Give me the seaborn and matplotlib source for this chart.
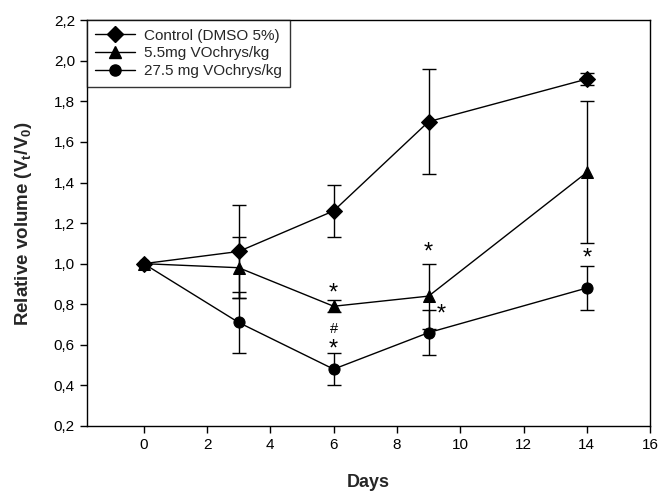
import pandas as pd
import matplotlib.pyplot as plt
import seaborn as sns
import numpy as np

days = [0, 3, 6, 9, 14]
groups = ["Control (DMSO 5%)", "5.5mg VOchrys/kg", "27.5 mg VOchrys/kg"]
control = [1.0, 1.06, 1.26, 1.70, 1.91]
control_err = [0.0, 0.23, 0.13, 0.26, 0.03]
low_dose = [1.0, 0.98, 0.79, 0.84, 1.45]
low_dose_err = [0.0, 0.15, 0.03, 0.16, 0.35]
high_dose = [1.0, 0.71, 0.48, 0.66, 0.88]
high_dose_err = [0.0, 0.15, 0.08, 0.11, 0.11]

# significance marks: (x, y, text)
marks_x = [6, 6, 6, 9, 9.4, 14]
marks_y = [0.855, 0.575, 0.68, 1.055, 0.75, 1.025]
marks_txt = ["*", "*", "#", "*", "*", "*"]

df = pd.DataFrame({
    "day": days * 3,
    "value": control + low_dose + high_dose,
    "err": control_err + low_dose_err + high_dose_err,
    "group": np.repeat(groups, len(days)),
})

sns.set_style("ticks")
plt.rcParams['font.family'] = ['Liberation Sans', 'DejaVu Sans']

fig = plt.figure(figsize=(6.59, 4.93), dpi=100)
ax = fig.add_axes([0.1316, 0.136, 0.855, 0.823])

markers = {groups[0]: "D", groups[1]: "^", groups[2]: "o"}

for g in groups:
    sub = df[df["group"] == g]
    ax.errorbar(sub["day"], sub["value"], yerr=sub["err"], fmt="none",
                ecolor="black", elinewidth=1, capsize=5, capthick=1, zorder=2)

sns.lineplot(data=df, x="day", y="value", hue="group", style="group",
             markers=markers, dashes=False, palette=["black"] * 3,
             linewidth=1, markersize=8, markeredgecolor="black",
             ax=ax, legend=False, zorder=3)

for x, y, t in zip(marks_x, marks_y, marks_txt):
    fs = 17 if t == "*" else 10.5
    ax.text(x, y, t, ha="center", va="center", fontsize=fs, color="black")

ax.set_xlim(-1.8, 16)
ax.set_ylim(0.2, 2.2)
ax.set_xticks(np.arange(0, 17, 2))
yt = np.arange(0.2, 2.21, 0.2)
ax.set_yticks(yt)
ax.set_yticklabels([f"{v:.1f}".replace(".", ",") for v in yt])
ax.tick_params(direction="out", length=5, width=1, labelsize=11, colors="black")
for s in ax.spines.values():
    s.set_visible(True)
    s.set_color("black")
    s.set_linewidth(1)

ax.set_xlabel("Days", fontsize=13, fontweight="bold", labelpad=16)
ax.set_ylabel("Relative volume (V$_\\mathregular{t}$/V$_\\mathregular{0}$)",
              fontsize=13.5, fontweight="bold", labelpad=14)

handles = [plt.Line2D([], [], color="black", lw=1, marker=markers[g],
                      markersize=8) for g in groups]
leg = ax.legend(handles, groups, loc="upper left", fontsize=11,
                frameon=True, fancybox=False, borderaxespad=0,
                handlelength=2.6, handletextpad=0.6, labelspacing=0.25,
                borderpad=0.55)
leg.get_frame().set_edgecolor("black")
leg.get_frame().set_linewidth(1)

fig.savefig("out.png", dpi=100)
